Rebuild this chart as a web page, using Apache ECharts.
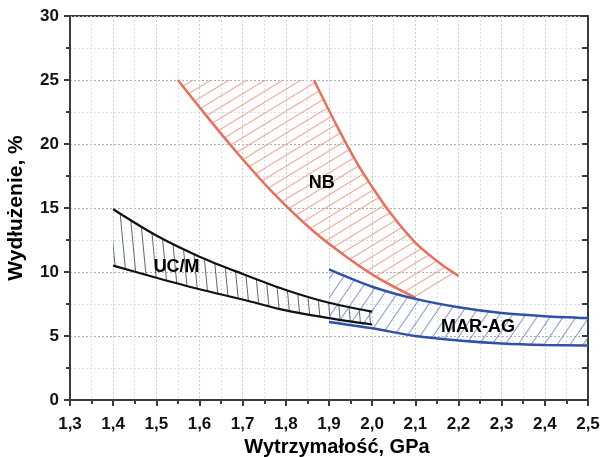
<!DOCTYPE html>
<html><head><meta charset="utf-8">
<script src="https://cdn.jsdelivr.net/npm/echarts@6/dist/echarts.min.js"></script>
<style>html,body{margin:0;padding:0;background:#fff}#c{width:603px;height:457px}</style>
</head><body><div id="c"></div>
<script>
// ---- data ----
const xTickLabels = ['1,3','1,4','1,5','1,6','1,7','1,8','1,9','2,0','2,1','2,2','2,3','2,4','2,5'];
const yTickLabels = ['0','5','10','15','20','25','30'];

const nbLeftX  = [1.55, 1.61, 1.69, 1.77, 1.86, 1.94, 2.02, 2.10];
const nbLeftY  = [25.0, 22.45, 19.2, 16.2, 13.3, 11.2, 9.4, 8.0];
const nbRightX = [1.865, 1.92, 1.965, 1.995, 2.04, 2.10, 2.16, 2.20];
const nbRightY = [25.0, 21.3, 18.5, 16.9, 14.7, 12.3, 10.6, 9.7];

const ucUpperX = [1.4, 1.5, 1.6, 1.7, 1.8, 1.9, 2.0];
const ucUpperY = [14.9, 12.85, 11.2, 9.85, 8.6, 7.6, 6.9];
const ucLowerX = [1.4, 1.5, 1.6, 1.7, 1.8, 1.9, 2.0];
const ucLowerY = [10.5, 9.55, 8.65, 7.85, 7.0, 6.4, 5.9];

const marUpperX = [1.9, 2.0, 2.1, 2.2, 2.3, 2.4, 2.5];
const marUpperY = [10.2, 8.85, 7.9, 7.25, 6.8, 6.55, 6.4];
const marLowerX = [1.9, 2.0, 2.1, 2.2, 2.3, 2.4, 2.5];
const marLowerY = [6.1, 5.6, 5.0, 4.65, 4.42, 4.3, 4.25];

const regionNames = ['NB', 'UC/M', 'MAR-AG'];
const regionLabelX = [1.883, 1.547, 2.245];
const regionLabelY = [16.95, 10.4, 5.7];

// ---- helpers ----
const pts = (xs, ys) => xs.map((x, i) => [x, ys[i]]);
function hatchTile(w, h, color, lw, x0, y0, x1, y1) {
  const c = document.createElement('canvas');
  c.width = w; c.height = h;
  const g = c.getContext('2d');
  g.strokeStyle = color; g.lineWidth = lw;
  g.beginPath();
  for (const dx of [-w, 0, w]) for (const dy of [-h, 0, h]) {
    g.moveTo(x0 + dx, y0 + dy); g.lineTo(x1 + dx, y1 + dy);
  }
  g.stroke();
  return { image: c, repeat: 'repeat' };
}
const nbFill  = hatchTile(18, 11, 'rgba(236,140,120,0.7)', 1.1, 0, 11, 18, 0);
const marFill = hatchTile(13, 19, 'rgba(110,128,205,0.75)', 1.1, 0, 19, 13, 0);
const ucFill  = hatchTile(10, 106, 'rgba(60,64,70,0.8)', 1.0, 0, 0, 10, 106);

function region(poly, fill) {
  return {
    type: 'custom', coordinateSystem: 'cartesian2d', silent: true, z: 1,
    data: [[poly[0][0], poly[0][1]]], clip: true,
    renderItem: (params, api) => ({
      type: 'polygon',
      shape: { points: poly.map(p => api.coord(p)) },
      style: { fill: fill, stroke: null }
    })
  };
}
function curve(xs, ys, color, w) {
  return {
    type: 'line', data: pts(xs, ys), smooth: 0.3, symbol: 'none', silent: true, z: 3,
    lineStyle: { color: color, width: w }
  };
}

const nbPoly = [[nbLeftX[0], nbLeftY[0]]]
  .concat(pts(nbRightX, nbRightY))
  .concat(pts(nbLeftX, nbLeftY).reverse());
const ucPoly = pts(ucUpperX, ucUpperY).concat(pts(ucLowerX, ucLowerY).reverse());
const marPoly = pts(marUpperX, marUpperY).concat(pts(marLowerX, marLowerY).reverse());

const FONT = 'Liberation Sans, Arial, sans-serif';
const AX = '#353d3d';
const xi = v => Math.round((v - 1.3) / 0.1);

const chart = echarts.init(document.getElementById('c'), null, { renderer: 'canvas' });
chart.setOption({
  animation: false,
  backgroundColor: '#ffffff',
  grid: { left: 70, right: 15, top: 16, bottom: 57, containLabel: false, outerBoundsMode: 'none',
    show: true, borderColor: AX, borderWidth: 2, backgroundColor: 'transparent' },
  xAxis: {
    type: 'value', min: 1.3, max: 2.5, interval: 0.1,
    name: 'Wytrzymałość, GPa', nameLocation: 'middle', nameGap: 37,
    nameTextStyle: { fontFamily: FONT, fontWeight: 'bold', fontSize: 20, color: '#000', padding: [0, 0, 0, 16] },
    axisLine: { show: true, lineStyle: { color: AX, width: 2 } },
    axisTick: { show: true, length: 6, lineStyle: { color: AX, width: 2 } },
    minorTick: { show: true, splitNumber: 2, length: 4, lineStyle: { color: AX, width: 2 } },
    axisLabel: { margin: 16, fontFamily: FONT, fontWeight: 'bold', fontSize: 17, color: '#111',
      formatter: v => xTickLabels[xi(v)] },
    splitLine: { show: true, lineStyle: { color: '#bfd2e4', width: 1, type: [2, 2] } },
    minorSplitLine: { show: true, lineStyle: { color: '#d3e2ef', width: 1, type: [2, 2] } }
  },
  yAxis: [{
    type: 'value', min: 0, max: 30, interval: 5, position: 'left',
    name: 'Wydłużenie, %', nameLocation: 'middle', nameGap: 43, nameRotate: 90,
    nameTextStyle: { fontFamily: FONT, fontWeight: 'bold', fontSize: 21, color: '#000' },
    axisLine: { show: true, lineStyle: { color: AX, width: 2 } },
    axisTick: { show: true, length: 6, lineStyle: { color: AX, width: 2 } },
    minorTick: { show: true, splitNumber: 2, length: 4, lineStyle: { color: AX, width: 2 } },
    axisLabel: { margin: 11, fontFamily: FONT, fontWeight: 'bold', fontSize: 17, color: '#111',
      formatter: v => yTickLabels[Math.round(v / 5)] },
    splitLine: { show: true, lineStyle: { color: '#a9b0b8', width: 1, type: [2, 2] } },
    minorSplitLine: { show: true, lineStyle: { color: '#d3e2ef', width: 1, type: [2, 2] } }
  }, {
    type: 'value', min: 0, max: 30, interval: 5, position: 'right',
    axisLine: { show: true, lineStyle: { color: AX, width: 2 } },
    axisTick: { show: true, inside: true, length: 6, lineStyle: { color: AX, width: 2 } },
    minorTick: { show: true, splitNumber: 2, length: 6, lineStyle: { color: AX, width: 2 } },
    axisLabel: { show: false }, splitLine: { show: false }
  }],
  series: [
    region(nbPoly, nbFill),
    region(ucPoly, ucFill),
    region(marPoly, marFill),
    curve(nbLeftX, nbLeftY, '#e8705a', 2.5),
    curve(nbRightX, nbRightY, '#e8705a', 2.5),
    curve(ucUpperX, ucUpperY, '#111111', 2.2),
    curve(ucLowerX, ucLowerY, '#111111', 2.2),
    curve(marUpperX, marUpperY, '#2f52a8', 2.5),
    curve(marLowerX, marLowerY, '#2f52a8', 2.5),
    {
      type: 'scatter', symbolSize: 0, silent: true, z: 5,
      itemStyle: { opacity: 1 },
      data: regionNames.map((n, i) => ({ name: n, value: [regionLabelX[i], regionLabelY[i]] })),
      label: { show: true, position: 'inside', formatter: p => p.name,
        fontFamily: FONT, fontWeight: 'bold', fontSize: 18, color: '#000', opacity: 1 }
    }
  ]
});
</script></body></html>
